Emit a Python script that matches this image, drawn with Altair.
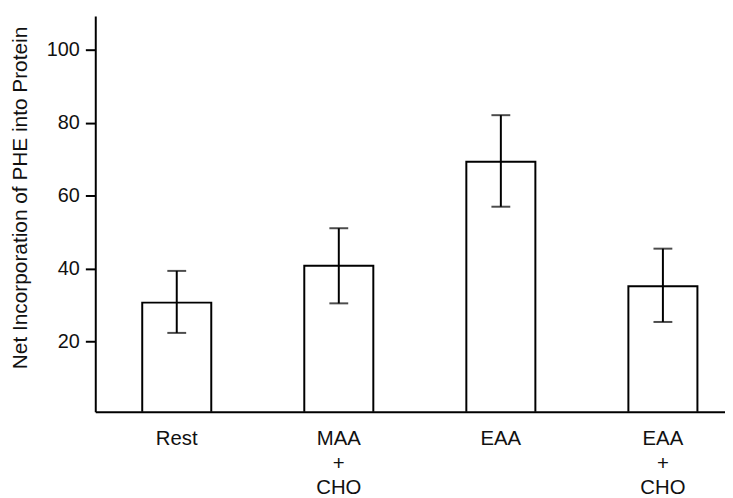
import altair as alt
import pandas as pd

categories = ["Rest", "MAA|+|CHO", "EAA", "EAA|+|CHO"]
means = [30.7, 40.8, 69.3, 35.2]
err_low = [22.4, 30.5, 57.0, 25.4]
err_high = [39.4, 51.1, 82.1, 45.5]

df = pd.DataFrame({"cat": categories, "mean": means, "lo": err_low, "hi": err_high})

FONT = "Liberation Sans"

xscale = alt.Scale(domain=categories, paddingInner=0.574, paddingOuter=0.23, align=0.63)
yscale = alt.Scale(domain=[0.8, 109.3], nice=False, zero=False)

x = alt.X("cat:N", scale=xscale, sort=categories, title=None,
          axis=alt.Axis(labelExpr="split(datum.label, '|')", labelAngle=0, ticks=False,
                        labelPadding=17, labelFontSize=20.5, labelFont=FONT, labelColor="#111",
                        labelLineHeight=25, labelBaseline="top",
                        domainColor="black", domainWidth=2, zindex=1))

bars = alt.Chart(df).mark_bar(fill="white", stroke="black", strokeWidth=2, clip=True).encode(
    x=x,
    y=alt.Y("mean:Q", scale=yscale,
            title="Net Incorporation of PHE into Protein",
            axis=alt.Axis(values=[20, 40, 60, 80, 100], grid=False, tickSize=10, tickWidth=2,
                          tickColor="black", domainColor="black", domainWidth=2,
                          labelFontSize=20, labelFont=FONT, labelColor="#111", labelPadding=6,
                          titleFontSize=21, titleFont=FONT, titleFontWeight="normal",
                          titleColor="#111", titleAngle=-90, titleX=-75, titleY=183,
                          titleBaseline="middle", titleAlign="center", zindex=1)),
)

rules = alt.Chart(df).mark_rule(color="black", strokeWidth=2).encode(
    x=alt.X("cat:N", scale=xscale, sort=categories),
    y=alt.Y("lo:Q", scale=yscale),
    y2="hi:Q",
)

caps_hi = alt.Chart(df).mark_tick(color="black", thickness=2, size=19).encode(
    x=alt.X("cat:N", scale=xscale, sort=categories),
    y=alt.Y("hi:Q", scale=yscale),
)
caps_lo = alt.Chart(df).mark_tick(color="black", thickness=2, size=19).encode(
    x=alt.X("cat:N", scale=xscale, sort=categories),
    y=alt.Y("lo:Q", scale=yscale),
)

chart = alt.layer(bars, rules, caps_hi, caps_lo).properties(
    width=635, height=399,
    autosize=alt.AutoSizeParams(type="none"),
    padding={"left": 88, "top": 6, "right": 0, "bottom": 85},
    background="white",
).configure_view(stroke=None)

chart.save("out.html", embed_options={"renderer": "svg", "actions": False})
